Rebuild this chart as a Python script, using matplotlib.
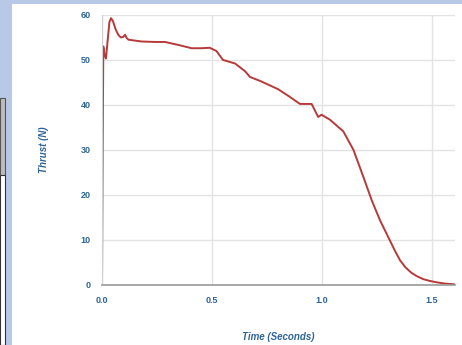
import matplotlib.pyplot as plt
from matplotlib.patches import Rectangle

# thrust curve
time_s = [0.0, 0.003, 0.006, 0.012, 0.018, 0.026, 0.034, 0.041, 0.05, 0.062, 0.075,
          0.086, 0.096, 0.105, 0.112, 0.12, 0.18, 0.24, 0.286, 0.35, 0.408, 0.45, 0.49,
          0.52, 0.55, 0.605, 0.65, 0.673, 0.72, 0.80, 0.85, 0.90, 0.953, 0.983,
          0.998, 1.036, 1.097, 1.143, 1.188, 1.226, 1.264, 1.309, 1.333, 1.355,
          1.38, 1.407, 1.43, 1.46, 1.49, 1.52, 1.56, 1.60]
thrust_n = [0.0, 30.0, 53.0, 51.0, 50.3, 54.5, 58.5, 59.3, 58.6, 56.8, 55.5,
            55.0, 55.1, 55.6, 54.9, 54.5, 54.1, 54.0, 54.0, 53.3, 52.6, 52.6, 52.7,
            52.0, 50.0, 49.2, 47.5, 46.2, 45.3, 43.5, 41.9, 40.2, 40.2, 37.3,
            37.8, 36.7, 34.1, 30.0, 24.0, 18.8, 14.3, 9.8, 7.4, 5.4,
            3.8, 2.6, 1.9, 1.2, 0.8, 0.5, 0.2, 0.05]

x_ticks = [0.0, 0.5, 1.0, 1.5]
y_ticks = [0, 10, 20, 30, 40, 50, 60]

W, H = 462, 345
fig = plt.figure(figsize=(W / 100, H / 100), dpi=100)
fig.patch.set_facecolor('#b7c9e6')

# white page of the screenshot and the bit of table on the left
fig.patches.append(Rectangle((12 / W, 0), 1 - 12 / W, 1 - 4 / H, transform=fig.transFigure,
                             facecolor='white', edgecolor='none', zorder=-3))
fig.patches.append(Rectangle((0, 1 - 175 / H), 5 / W, 77 / H, transform=fig.transFigure,
                             facecolor='#bdbdbd', edgecolor='#555555', lw=0.8, zorder=-2))
fig.patches.append(Rectangle((0, 1 - 345 / H), 5 / W, 170 / H, transform=fig.transFigure,
                             facecolor='white', edgecolor='#333333', lw=0.8, zorder=-2))

ax = fig.add_axes([102 / W, 1 - 284.5 / H, 353 / W, 269.5 / H])
ax.set_zorder(5)
ax.patch.set_alpha(0)
ax.plot(time_s, thrust_n, color='#b8393a', lw=1.4, solid_joinstyle='round')

ax.set_xlim(0, 1.605)
ax.set_ylim(0, 60)
ax.set_xticks(x_ticks)
ax.set_yticks(y_ticks)
ax.set_xticklabels(['%.1f' % t for t in x_ticks])
ax.grid(True, color='#e3e3e3', lw=1.0)
ax.set_axisbelow(True)

for side in ['top', 'right']:
    ax.spines[side].set_visible(False)
ax.spines['left'].set_color('#d0d0d0')
ax.spines['bottom'].set_color('#9a9a9a')
ax.spines['bottom'].set_linewidth(1.2)

lbl = '#2e6496'
ax.tick_params(length=0, pad=8, labelsize=6.5, labelcolor=lbl)
for t in ax.get_xticklabels() + ax.get_yticklabels():
    t.set_fontweight('bold')
    t.set_family('Liberation Sans')

ax.set_xlabel('Time (Seconds)', color=lbl, fontsize=7, fontweight='bold', style='italic',
              family='Liberation Sans', labelpad=20)
ax.set_ylabel('Thrust (N)', color=lbl, fontsize=7, fontweight='bold', style='italic',
              family='Liberation Sans', labelpad=23)

fig.savefig('out.png', dpi=100)
